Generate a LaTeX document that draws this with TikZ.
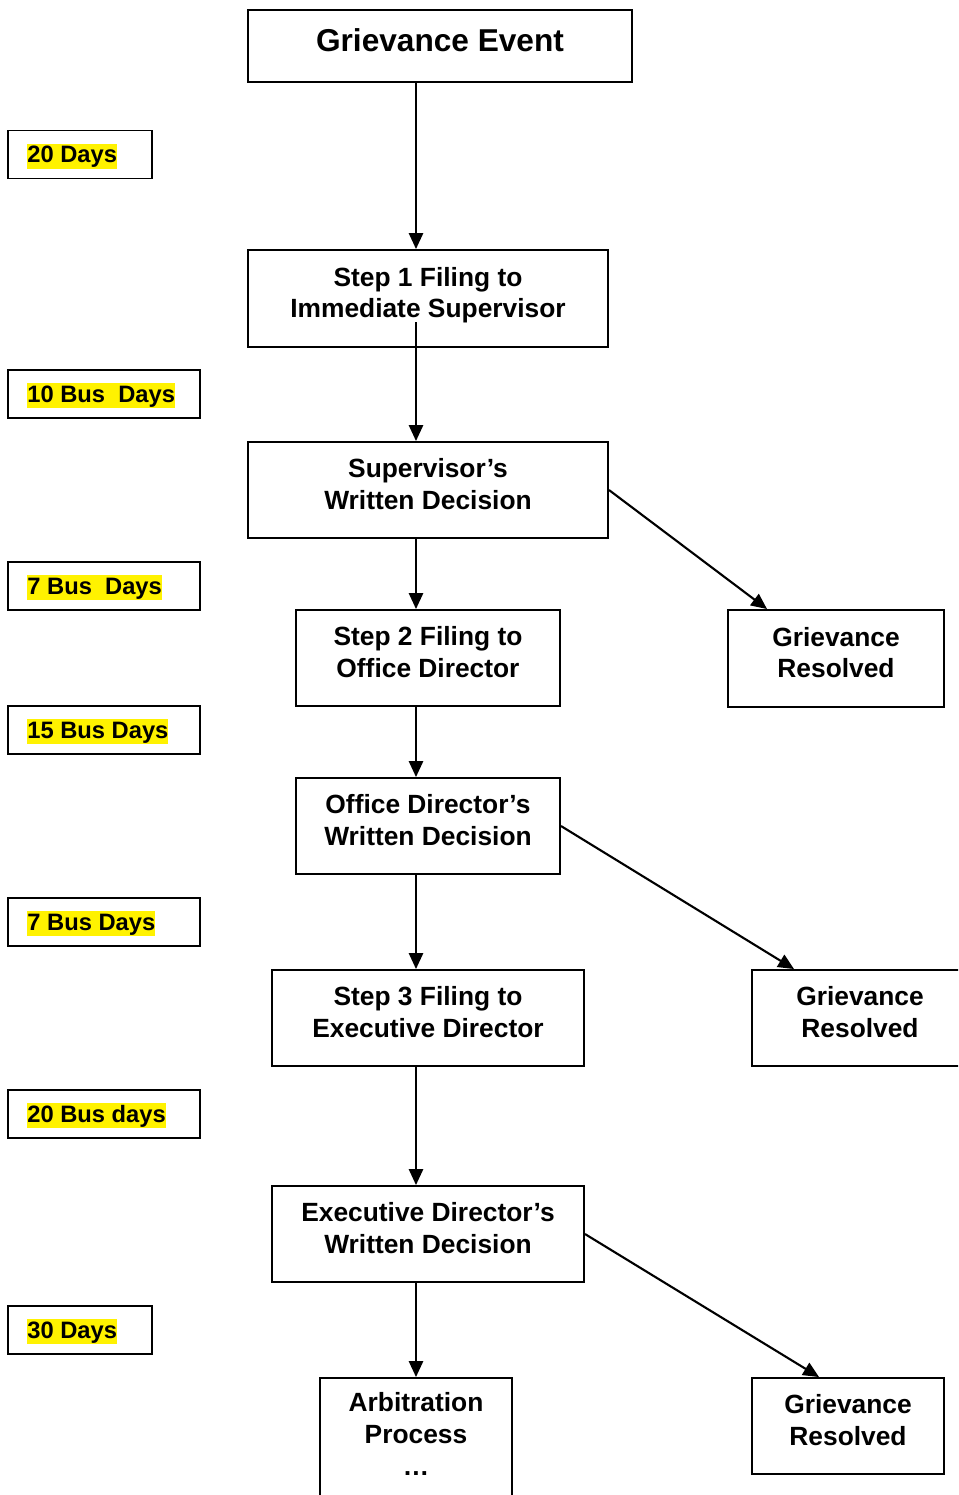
\documentclass[tikz,border=0pt]{standalone}
\usepackage{fontspec}
\setmainfont{Liberation Sans}
\usetikzlibrary{arrows.meta}
\newcommand{\pxu}{0.02cm}

\begin{document}
\begin{tikzpicture}[x=0.02cm, y=-0.02cm,
	stepbox/.style={draw, line width=1.1pt, align=center, inner sep=0pt, text depth=7pt, font=\bfseries\fontsize{15}{18.1}\selectfont},
	daybox/.style={draw, line width=1.1pt, minimum height=48*\pxu, inner sep=0pt},
	dayhl/.style={fill=yellow, anchor=west, inner xsep=0pt, inner ysep=0.4pt, text height=10.4pt, text depth=3.2pt, font=\bfseries\fontsize{13.5}{16}\selectfont},
	flow/.style={line width=1.2pt, -{Triangle[length=9pt, width=8pt]}}]
				\useasboundingbox (0,0) rectangle (958,1495);
				\clip (0,0) rectangle (958,1495);
				\node[stepbox, minimum width=384*\pxu, minimum height=72*\pxu, font=\bfseries\fontsize{18}{21}\selectfont] (event) at (440,46) {Grievance Event};
				\node[stepbox, minimum width=360*\pxu, minimum height=97*\pxu] (s1) at (428,298.5) {Step 1 Filing to\\Immediate Supervisor};
				\node[stepbox, minimum width=360*\pxu, minimum height=96*\pxu] (sup) at (428,490) {Supervisor’s\\Written Decision};
				\node[stepbox, minimum width=264*\pxu, minimum height=96*\pxu] (s2) at (428,658) {Step 2 Filing to\\Office Director};
				\node[stepbox, minimum width=216*\pxu, minimum height=97*\pxu] (gr1) at (836,658.5) {Grievance\\Resolved};
				\node[stepbox, minimum width=264*\pxu, minimum height=96*\pxu] (od) at (428,826) {Office Director’s\\Written Decision};
				\node[stepbox, minimum width=312*\pxu, minimum height=96*\pxu] (s3) at (428,1018) {Step 3 Filing to\\Executive Director};
				\node[stepbox, minimum width=216*\pxu, minimum height=96*\pxu] (gr2) at (860,1018) {Grievance\\Resolved};
				\node[stepbox, minimum width=312*\pxu, minimum height=96*\pxu] (ed) at (428,1234) {Executive Director’s\\Written Decision};
				\node[stepbox, minimum width=192*\pxu, minimum height=124*\pxu] (arb) at (416,1440) {Arbitration\\Process\\…};
				\node[stepbox, minimum width=192*\pxu, minimum height=96*\pxu] (gr3) at (848,1426) {Grievance\\Resolved};
				\node[daybox, minimum width=144*\pxu] (d1) at (80,154.5) {};
				\node[dayhl] (t1) at ([xshift=20*\pxu, yshift=-1pt]d1.west) {20 Days};
				\node[daybox, minimum width=192*\pxu] (d2) at (104,394) {};
				\node[dayhl] (t2) at ([xshift=20*\pxu, yshift=-1pt]d2.west) {10 Bus\ \ Days};
				\node[daybox, minimum width=192*\pxu] (d3) at (104,586) {};
				\node[dayhl] (t3) at ([xshift=20*\pxu, yshift=-1pt]d3.west) {7 Bus\ \ Days};
				\node[daybox, minimum width=192*\pxu] (d4) at (104,730) {};
				\node[dayhl] (t4) at ([xshift=20*\pxu, yshift=-1pt]d4.west) {15 Bus Days};
				\node[daybox, minimum width=192*\pxu] (d5) at (104,922) {};
				\node[dayhl] (t5) at ([xshift=20*\pxu, yshift=-1pt]d5.west) {7 Bus Days};
				\node[daybox, minimum width=192*\pxu] (d6) at (104,1114) {};
				\node[dayhl] (t6) at ([xshift=20*\pxu, yshift=-1pt]d6.west) {20 Bus days};
				\node[daybox, minimum width=144*\pxu] (d7) at (80,1330) {};
				\node[dayhl] (t7) at ([xshift=20*\pxu, yshift=-1pt]d7.west) {30 Days};
				\coordinate (ax) at (416,0);
				\coordinate (s1out) at ([yshift=-23.5*\pxu]s1.center);
				\draw[flow] (event.south -| ax) -- (s1.north -| ax);
				\draw[flow] (s1out -| ax) -- (sup.north -| ax);
				\draw[flow] (sup.south -| ax) -- (s2.north -| ax);
				\draw[flow] (s2.south -| ax) -- (od.north -| ax);
				\draw[flow] (od.south -| ax) -- (s3.north -| ax);
				\draw[flow] (s3.south -| ax) -- (ed.north -| ax);
				\draw[flow] (ed.south -| ax) -- (arb.north -| ax);
				\draw[flow] (sup.east) -- ([xshift=40*\pxu]gr1.north west);
				\draw[flow] (od.east) -- ([xshift=43*\pxu]gr2.north west);
				\draw[flow] (ed.east) -- ([xshift=68*\pxu]gr3.north west);
			\end{tikzpicture}
\end{document}
